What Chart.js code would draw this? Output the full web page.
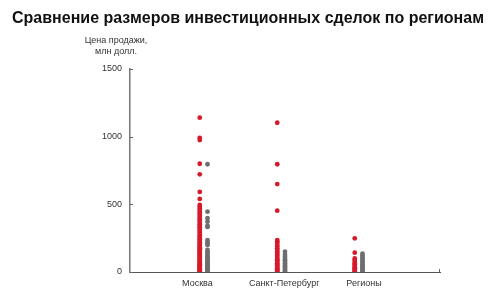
<!DOCTYPE html>
<html>
<head>
<meta charset="utf-8">
<script src="https://cdn.jsdelivr.net/npm/chart.js@4.4.0/dist/chart.umd.min.js"></script>
<style>
  html, body { margin: 0; padding: 0; background: #fff; }
  #wrap { width: 499px; height: 305px; }
</style>
</head>
<body>
<div id="wrap"><canvas id="grafico"></canvas></div>
<script>
// Категории и значения (млн долл.)
const regiones = ['Москва', 'Санкт-Петербург', 'Регионы'];
const yTicks = [0, 500, 1000, 1500];

// Москва
const moscowRed = [1140, 990, 975, 800, 722, 592, 540, 495, 482, 470, 455, 440, 428, 415, 400, 390, 378, 365, 352,
  340, 330, 318, 305, 295, 284, 272, 262, 250, 240, 231, 220, 210, 200, 192, 183, 175, 166, 158, 150, 142, 135,
  127, 120, 112, 105, 98, 90, 83, 76, 70, 63, 57, 50, 44, 38, 32, 26, 20, 15, 10, 5, 2];
const moscowGrey = [796, 446, 397, 372, 340, 333, 236, 222, 210, 200, 163, 150, 140, 125, 115, 105, 96, 87, 78,
  70, 62, 54, 46, 38, 30, 22, 15, 8, 3];
// Санкт-Петербург
const spbRed = [1103, 796, 650, 453, 236, 225, 214, 200, 188, 175, 163, 150, 140, 128, 118, 106, 95, 85, 74, 64,
  55, 46, 37, 28, 20, 12, 5];
const spbGrey = [150, 128, 112, 98, 86, 74, 62, 52, 42, 32, 23, 14, 6];
// Регионы
const regRed = [249, 143, 100, 88, 76, 65, 55, 45, 36, 27, 18, 10, 4];
const regGrey = [135, 120, 106, 93, 80, 68, 56, 45, 34, 24, 14, 6];

const rojo = '#d71a2b';
const gris = '#6e6e6e';

function puntos(lista, x) {
  return lista.map(v => ({ x: x, y: v }));
}

const redData = [].concat(puntos(moscowRed, 0.9), puntos(spbRed, 1.9), puntos(regRed, 2.9));
const greyData = [].concat(puntos(moscowGrey, 1.0), puntos(spbGrey, 2.0), puntos(regGrey, 3.0));

// Подписи, оси и засечки
const textos = {
  id: 'textos',
  afterDraw(chart) {
    const c = chart.ctx;
    const y = chart.scales.y;
    const x = chart.scales.x;
    c.save();
    c.fillStyle = '#111';
    c.font = 'bold 16px "Liberation Sans", Arial, sans-serif';
    c.textAlign = 'center';
    c.textBaseline = 'middle';
    c.fillText('Сравнение размеров инвестиционных сделок по регионам', 248, 19);
    c.fillStyle = '#333';
    c.font = '9px "Liberation Sans", Arial, sans-serif';
    c.fillText('Цена продажи,', 116, 41);
    c.fillText('млн долл.', 116, 52);

    c.strokeStyle = '#666';
    c.lineWidth = 1;
    yTicks.forEach(t => {
      const py = Math.round(y.getPixelForValue(t)) + 0.5;
      c.beginPath();
      c.moveTo(x.left, py);
      c.lineTo(x.left + 3, py);
      c.stroke();
    });
    const px = Math.round(x.right) - 0.5;
    c.beginPath();
    c.moveTo(px, y.bottom);
    c.lineTo(px, y.bottom - 3);
    c.stroke();
    c.restore();
  }
};

const ctx = document.getElementById('grafico').getContext('2d');
new Chart(ctx, {
  type: 'scatter',
  data: {
    datasets: [
      { label: 'red', data: redData, backgroundColor: rojo, borderColor: rojo, pointRadius: 2.4, borderWidth: 0 },
      { label: 'grey', data: greyData, backgroundColor: gris, borderColor: gris, pointRadius: 2.4, borderWidth: 0 }
    ]
  },
  options: {
    responsive: true,
    maintainAspectRatio: false,
    animation: false,
    layout: { padding: { top: 69, right: 59, left: 0, bottom: 0 } },
    plugins: { legend: { display: false }, tooltip: { enabled: false } },
    scales: {
      x: {
        type: 'linear',
        min: 0,
        max: 4,
        afterBuildTicks: (axis) => { axis.ticks = [{ value: 0.87 }, { value: 1.99 }, { value: 3.02 }]; },
        afterFit: (axis) => { axis.height = 33; },
        ticks: {
          callback: (v, i) => regiones[i],
          color: '#333',
          font: { family: '"Liberation Sans", Arial, sans-serif', size: 9 },
          padding: 6,
          maxRotation: 0,
          autoSkip: false
        },
        grid: { display: false, drawTicks: false },
        border: { display: true, color: '#555', width: 1 }
      },
      y: {
        min: 0,
        max: 1500,
        afterBuildTicks: (axis) => { axis.ticks = yTicks.map(v => ({ value: v })); },
        afterFit: (axis) => { axis.width = 130; },
        ticks: {
          callback: (v) => String(v),
          color: '#333',
          font: { family: '"Liberation Sans", Arial, sans-serif', size: 9 },
          padding: 8
        },
        grid: { display: false, drawTicks: false },
        border: { display: true, color: '#777', width: 1.5 }
      }
    }
  },
  plugins: [textos]
});
</script>
</body>
</html>
